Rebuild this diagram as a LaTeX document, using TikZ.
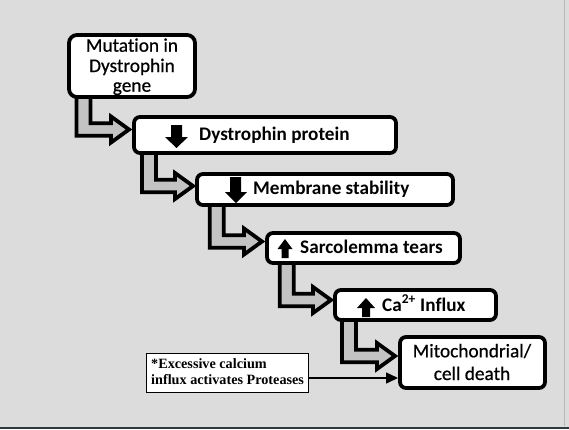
\documentclass[tikz,border=0pt]{standalone}
\usepackage{fontspec}
\setmainfont{Carlito}[Ligatures={NoCommon}]
\newfontfamily\medfont{Carlito}[Ligatures={NoCommon}, FakeBold=0.6]
\newfontfamily\notefont{Liberation Serif}
\usetikzlibrary{calc,arrows.meta}
\definecolor{bg}{HTML}{DCDCDC}
\definecolor{arrfill}{HTML}{C3C3C3}
\definecolor{edge}{HTML}{2F3A3F}
\tikzset{
  flowbox/.style={draw=black, line width=3.8pt, fill=white, rounded corners=6pt, outer sep=0pt, inner sep=0pt},
  bentarrow/.style={draw=black, line width=3.8pt, fill=arrfill, line join=miter, miter limit=10},
  boxtext/.style={font=\fontsize{19.2}{21}\selectfont\bfseries, inner sep=0pt, anchor=base west},
  plaintext/.style={font=\medfont\fontsize{19.3}{21}\selectfont, inner sep=0pt, anchor=base},
  notetext/.style={font=\notefont\fontsize{14.2}{16}\selectfont\bfseries, inner sep=0pt, anchor=base west},
  blockarrow/.style={fill=black},
}
% #1 source node, #2 target node, #3 shaft x offset, #4 tip x offset, #5 centre y offset
\newcommand\bentarr[5]{%
  \draw[bentarrow] let \p1=($(#1.south west)+(#3,-5)$), \p2=($(#2.west)+(#4,#5)$) in
    (\x1,\y1) -- (\x1,{\y2-6.3pt}) -- ({\x2-18pt},{\y2-6.3pt}) -- ({\x2-18pt},{\y2-13pt})
    -- (\x2,\y2) -- ({\x2-18pt},{\y2+13pt}) -- ({\x2-18pt},{\y2+6.3pt})
    -- ({\x1+14pt},{\y2+6.3pt}) -- ({\x1+14pt},\y1) -- cycle;}
\begin{document}
\begin{tikzpicture}[x=1pt,y=-1pt]
\fill[bg] (0,0) rectangle (569,429);
\useasboundingbox (0,0) rectangle (569,429);
\draw[line width=0.8pt, black!28] (564.5,0) -- (564.5,426);
\fill[edge] (0,426.5) rectangle (569,429);

% box nodes (placed first for anchors, drawn later)
\path (132,66) node[minimum width=126pt, minimum height=62pt, outer sep=0pt, inner sep=0pt] (b1) {};
\path (265,135) node[minimum width=262pt, minimum height=36pt, outer sep=0pt, inner sep=0pt] (b2) {};
\path (325,189.5) node[minimum width=256pt, minimum height=31pt, outer sep=0pt, inner sep=0pt] (b3) {};
\path (363.5,248) node[minimum width=193pt, minimum height=30pt, outer sep=0pt, inner sep=0pt] (b4) {};
\path (415.5,305) node[minimum width=161pt, minimum height=30pt, outer sep=0pt, inner sep=0pt] (b5) {};
\path (472.5,362.5) node[minimum width=145pt, minimum height=51pt, outer sep=0pt, inner sep=0pt] (b6) {};

% bent arrows
\bentarr{b1}{b2}{7.5}{-5}{-5.5}
\bentarr{b2}{b3}{8}{-4}{-3.5}
\bentarr{b3}{b4}{12.7}{-5}{-6.5}
\bentarr{b4}{b5}{12.7}{-4}{-5}
\bentarr{b5}{b6}{7}{-5}{-6.5}

% boxes drawn
\draw[flowbox, rounded corners=8pt] (b1.south west) rectangle (b1.north east);
\draw[flowbox] (b2.south west) rectangle (b2.north east);
\draw[flowbox] (b3.south west) rectangle (b3.north east);
\draw[flowbox] (b4.south west) rectangle (b4.north east);
\draw[flowbox] (b5.south west) rectangle (b5.north east);
\draw[flowbox] (b6.south west) rectangle (b6.north east);

% texts
\node[plaintext] (t1a) at (132,51.7) {Mutation in};
\node[plaintext] (t1b) at (132,72) {Dystrophin};
\node[plaintext] (t1c) at (132,91.7) {gene};
\node[boxtext] (t2) at (199,140) {Dystrophin protein};
\node[boxtext] (t3) at (253,194.3) {Membrane stability};
\node[boxtext] (t4) at (300,253.3) {Sarcolemma tears};
\node[boxtext] (t5) at (382,311) {Ca\textsuperscript{2+} Influx};
\node[plaintext] (t6a) at (472,357.3) {Mitochondrial/};
\node[plaintext] (t6b) at (472,380) {cell death};

% block arrows
\fill[blockarrow] (171,125) -- (182,125) -- (182,137) -- (188,137) -- (176.5,148) -- (165,137) -- (171,137) -- cycle;
\fill[blockarrow] (230,177) -- (241,177) -- (241,192) -- (247,192) -- (236,203) -- (225,192) -- (230,192) -- cycle;
\fill[blockarrow] (281.5,258) -- (288.5,258) -- (288.5,249) -- (292.5,249) -- (285,239) -- (277.5,249) -- (281.5,249) -- cycle;
\fill[blockarrow] (362,317) -- (370,317) -- (370,308) -- (375,308) -- (366,298) -- (357,308) -- (362,308) -- cycle;

% note
\node[draw=black, line width=1.5pt, fill=white, minimum width=161.6pt, minimum height=38.6pt, outer sep=0pt, inner sep=0pt] (note) at (227.5,373) {};
\node[notetext] (n1) at (151,368.3) {*Excessive calcium};
\node[notetext] (n2) at (151,384) {influx activates Proteases};
\coordinate (na) at ($(note.east)+(0,5)$);
\draw[line width=1.5pt, -{Triangle[length=12pt,width=11pt]}, shorten >=2pt] (na) -- (na -| b6.west);
\end{tikzpicture}
\end{document}
